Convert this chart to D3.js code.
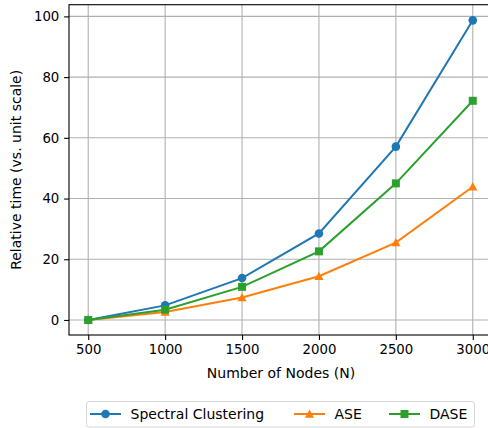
<!DOCTYPE html>
<html>
<head>
<meta charset="utf-8">
<script src="https://cdn.jsdelivr.net/npm/d3@7/dist/d3.min.js"></script>
<style>
  html, body { margin: 0; padding: 0; background: #fff; }
  svg { display: block; font-family: "DejaVu Sans", sans-serif; }
</style>
</head>
<body>
<svg id="chart" width="488" height="428"></svg>
<script>
// Node counts on the x axis
const nodes = [500, 1000, 1500, 2000, 2500, 3000];

// Relative run time of each method (vs. unit scale)
const spectralClustering = [0, 4.8, 13.8, 28.5, 57.1, 98.7];
const ase = [0, 2.6, 7.4, 14.4, 25.5, 43.9];
const dase = [0, 3.4, 10.9, 22.6, 45.0, 72.2];

const xTicks = [500, 1000, 1500, 2000, 2500, 3000];
const yTicks = [0, 20, 40, 60, 80, 100];

const seriesNames = ["Spectral Clustering", "ASE", "DASE"];
const seriesColors = ["#1f77b4", "#ff7f0e", "#2ca02c"];
const seriesMarkers = ["circle", "triangle", "square"];

const series = [spectralClustering, ase, dase].map((vals, i) => ({
  name: seriesNames[i],
  color: seriesColors[i],
  marker: seriesMarkers[i],
  points: nodes.map((n, j) => ({ x: n, y: vals[j] }))
}));

const svg = d3.select("#chart");
const plot = { left: 69, top: 4.7, right: 492, bottom: 335 };

const x = d3.scaleLinear().domain([375, 3125]).range([plot.left, plot.right]);
const y = d3.scaleLinear().domain([-4.95, 103.85]).range([plot.bottom, plot.top]);

const tickFont = 13.3;
const labelFont = 14;

// Grid lines
const grid = svg.append("g");
grid.selectAll("line.gx").data(xTicks).join("line")
  .attr("x1", d => x(d)).attr("x2", d => x(d))
  .attr("y1", plot.top).attr("y2", plot.bottom)
  .attr("stroke", "#b0b0b0").attr("stroke-width", 1.1);
grid.selectAll("line.gy").data(yTicks).join("line")
  .attr("y1", d => y(d)).attr("y2", d => y(d))
  .attr("x1", plot.left).attr("x2", plot.right)
  .attr("stroke", "#b0b0b0").attr("stroke-width", 1.1);

// Axes
const xAxis = d3.axisBottom(x).tickValues(xTicks).tickSize(4.9).tickPadding(4.8).tickFormat(d3.format("d"));
const yAxis = d3.axisLeft(y).tickValues(yTicks).tickSize(4.9).tickPadding(4.8).tickFormat(d3.format("d"));

const gx = svg.append("g").attr("transform", `translate(0,${plot.bottom})`).call(xAxis);
const gy = svg.append("g").attr("transform", `translate(${plot.left},0)`).call(yAxis);
[gx, gy].forEach(g => {
  g.select(".domain").remove();
  g.selectAll(".tick line").attr("stroke", "#000").attr("stroke-width", 1.1);
  g.selectAll(".tick text").attr("fill", "#000")
    .style("font-family", "DejaVu Sans").style("font-size", tickFont + "px");
});

// Spines
svg.append("rect")
  .attr("x", plot.left).attr("y", plot.top)
  .attr("width", plot.right - plot.left).attr("height", plot.bottom - plot.top)
  .attr("fill", "none").attr("stroke", "#000").attr("stroke-width", 1.1);

// Axis titles
svg.append("text")
  .attr("x", 281).attr("y", 377.5)
  .attr("text-anchor", "middle").attr("font-size", labelFont).attr("fill", "#000")
  .text("Number of Nodes (N)");
svg.append("text")
  .attr("transform", `translate(21,${(plot.top + plot.bottom) / 2}) rotate(-90)`)
  .attr("text-anchor", "middle").attr("font-size", labelFont).attr("fill", "#000")
  .text("Relative time (vs. unit scale)");

// Marker shapes
function drawMarker(g, type, color, cx, cy) {
  if (type === "circle") {
    g.append("circle").attr("cx", cx).attr("cy", cy).attr("r", 4.3).attr("fill", color);
  } else if (type === "square") {
    g.append("rect").attr("x", cx - 4).attr("y", cy - 4).attr("width", 8).attr("height", 8).attr("fill", color);
  } else {
    const s = 4.6;
    g.append("path")
      .attr("d", `M${cx},${cy - s} L${cx + s},${cy + s * 0.8} L${cx - s},${cy + s * 0.8} Z`)
      .attr("fill", color);
  }
}

// Lines with markers
const line = d3.line().x(d => x(d.x)).y(d => y(d.y));
series.forEach(s => {
  const g = svg.append("g");
  g.append("path").datum(s.points).attr("d", line)
    .attr("fill", "none").attr("stroke", s.color).attr("stroke-width", 2);
  s.points.forEach(p => drawMarker(g, s.marker, s.color, x(p.x), y(p.y)));
});

// Legend
const legend = svg.append("g");
legend.append("rect")
  .attr("x", 86.5).attr("y", 401.5).attr("width", 388).attr("height", 25.5)
  .attr("rx", 2.5).attr("fill", "#fff").attr("stroke", "#d6d6d6").attr("stroke-width", 1);
const legendLineX = [90, 294, 389];
const legendY = 414;
series.forEach((s, i) => {
  const lx = legendLineX[i];
  legend.append("line").attr("x1", lx).attr("x2", lx + 31)
    .attr("y1", legendY).attr("y2", legendY)
    .attr("stroke", s.color).attr("stroke-width", 2);
  drawMarker(legend, s.marker, s.color, lx + 15.5, legendY);
  legend.append("text").attr("x", lx + 40.5).attr("y", legendY + 5)
    .attr("font-size", labelFont).attr("fill", "#000").text(s.name);
});
</script>
</body>
</html>
